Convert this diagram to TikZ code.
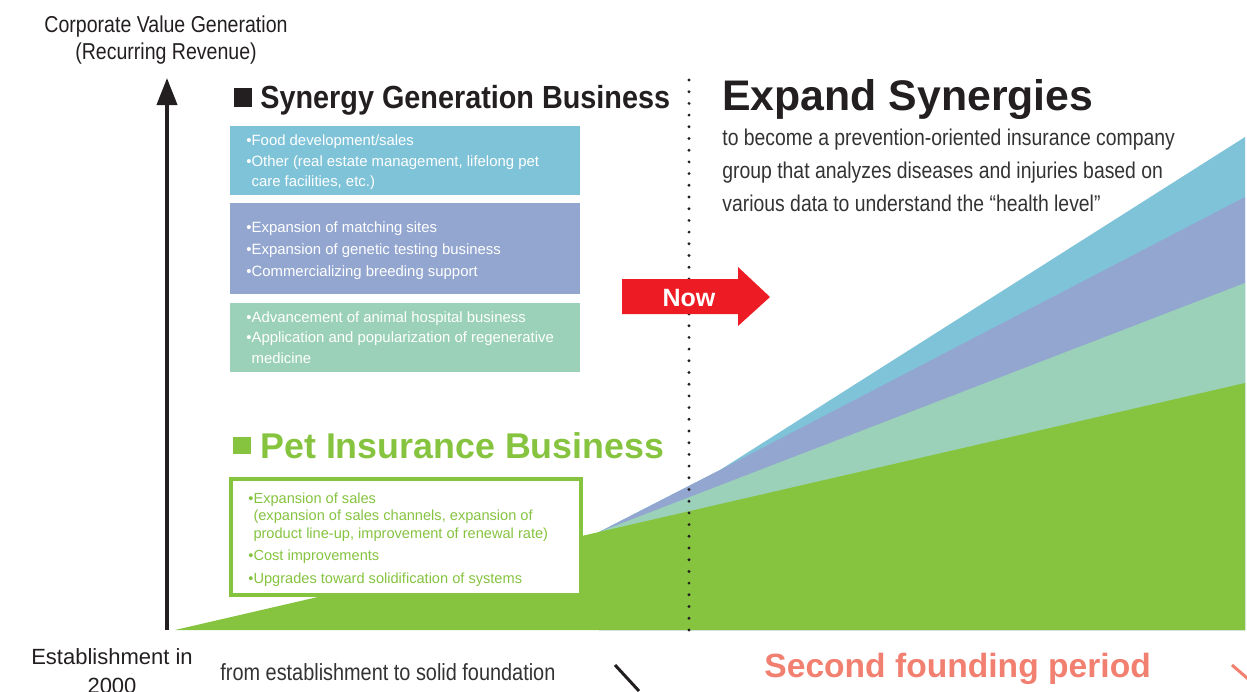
\documentclass[tikz,border=0pt]{standalone}
\usepackage{fontspec}
\setmainfont{Liberation Sans}
\newfontfamily\condfont[FakeStretch=0.85]{Liberation Sans}
\newfontfamily\headfont[FakeStretch=0.9]{Liberation Sans}
\usetikzlibrary{arrows.meta}

\definecolor{synblue}{HTML}{7FC3D8}
\definecolor{synpurple}{HTML}{93A6D0}
\definecolor{synmint}{HTML}{9BD1B8}
\definecolor{petgreen}{HTML}{86C440}
\definecolor{nowred}{HTML}{ED1C24}
\definecolor{foundsalmon}{HTML}{F28070}
\definecolor{ink}{HTML}{231F20}
\definecolor{graytext}{HTML}{333333}

% multi-line nodes are placed at the baseline of their last line
\tikzset{
  boxtext/.style={anchor=base west, align=left, inner sep=0pt, text=white,
    font=\fontsize{7.45}{10.25}\selectfont},
  pettext/.style={boxtext, text=petgreen, font=\fontsize{7.3}{8.75}\selectfont},
  plaintext/.style={anchor=base west, inner sep=0pt, text=graytext,
    font=\condfont\fontsize{11.7}{16.5}\selectfont},
}

\begin{document}
\begin{tikzpicture}[x=0.5pt, y=-0.5pt]
        \useasboundingbox (0,0) rectangle (1247,691);

        % growth areas
        \fill[synblue] (599,532) -- (720,470) -- (1245,137) -- (1245,630) -- (599,630) -- cycle;
        \fill[synpurple] (599,532) -- (720,470) -- (1245,197) -- (1245,630) -- (599,630) -- cycle;
        \fill[synmint] (599,532) -- (1245,283) -- (1245,630) -- (599,630) -- cycle;
        \fill[petgreen] (175,630) -- (599,532) -- (1245,383) -- (1245,630) -- cycle;

        % axis
        \coordinate (origin) at (167,630);
        \coordinate (ytop) at (167,78);
        \draw[ink, line width=2pt, -{Triangle[length=13.5pt, width=10pt]}] (origin) -- (ytop);
        \node[anchor=base, inner sep=0pt, text=ink, align=center,
              font=\condfont\fontsize{11.5}{13.5}\selectfont] (ylabel) at (166,59)
              {Corporate Value Generation\\(Recurring Revenue)};

        % now line
        \coordinate (nowtop) at (689,80);
        \coordinate (nowbot) at (689,630);
        \draw[ink, line width=1.6pt, line cap=round, dash pattern=on 0pt off 5.85pt] (nowtop) -- (nowbot);

        \fill[nowred] (622,279) -- (738,279) -- (738,267) -- (770,297) -- (738,326) -- (738,314) -- (622,314) -- cycle;
        \node[anchor=base, inner sep=0pt, text=white, font=\bfseries\fontsize{12.5}{14}\selectfont] (now) at (689,306) {Now};

        % synergy generation business
        \fill[ink] (234,88) rectangle (252,107);
        \node[anchor=base west, inner sep=0pt, text=ink, font=\headfont\bfseries\fontsize{16}{18}\selectfont] (synhead) at (260,108)
              {Synergy Generation Business};

        \fill[synblue] (230,126) rectangle (580,195);
        \node[boxtext] (food) at (246,186.5)
              {•Food development/sales\\
               •Other (real estate management, lifelong pet\\
               \hphantom{•}care facilities, etc.)};

        \fill[synpurple] (230,203) rectangle (580,294);
        \node[boxtext, font=\fontsize{7.45}{11}\selectfont] (match) at (246,276)
              {•Expansion of matching sites\\
               •Expansion of genetic testing business\\
               •Commercializing breeding support};

        \fill[synmint] (230,303) rectangle (580,372);
        \node[boxtext] (hospital) at (246,363)
              {•Advancement of animal hospital business\\
               •Application and popularization of regenerative\\
               \hphantom{•}medicine};

        % pet insurance business
        \fill[petgreen] (233,437) rectangle (251,454);
        \node[anchor=base west, inner sep=0pt, text=petgreen, font=\bfseries\fontsize{17.9}{20}\selectfont] (pethead) at (260,458)
              {Pet Insurance Business};

        \draw[petgreen, line width=2pt, fill=white] (231,479) rectangle (581,595);
        \node[pettext] (sales) at (248,583)
              {•Expansion of sales\\
               \hphantom{•}(expansion of sales channels, expansion of\\
               \hphantom{•}product line-up, improvement of renewal rate)\\[2.5pt]
               •Cost improvements\\[2.5pt]
               •Upgrades toward solidification of systems};

        % expand synergies
        \node[anchor=base west, inner sep=0pt, text=ink, font=\bfseries\fontsize{21.4}{24}\selectfont] (expand) at (722,110)
              {Expand Synergies};
        \node[plaintext, align=left, font=\condfont\fontsize{11.4}{16.5}\selectfont] (prevent) at (722,211)
              {to become a prevention-oriented insurance company\\
               group that analyzes diseases and injuries based on\\
               various data to understand the “health level”};

        % periods
        \node[anchor=base, inner sep=0pt, text=ink, align=center,
              font=\fontsize{11}{14.5}\selectfont] (estab) at (112,693)
              {Establishment in\\2000};
        \node[plaintext] (first) at (220,680) {from establishment to solid foundation};
        \coordinate (firstend) at (615,665);
        \coordinate (firstend2) at (639,691);
        \draw[ink, line width=1.5pt] (firstend) -- (firstend2);

        \node[anchor=base west, inner sep=0pt, text=foundsalmon, font=\bfseries\fontsize{16.8}{18}\selectfont] (second) at (764,677)
              {Second founding period};
        \coordinate (secondend) at (1232,665);
        \coordinate (secondend2) at (1262,691);
        \draw[foundsalmon, line width=1.5pt] (secondend) -- (secondend2);

    \end{tikzpicture}
\end{document}
